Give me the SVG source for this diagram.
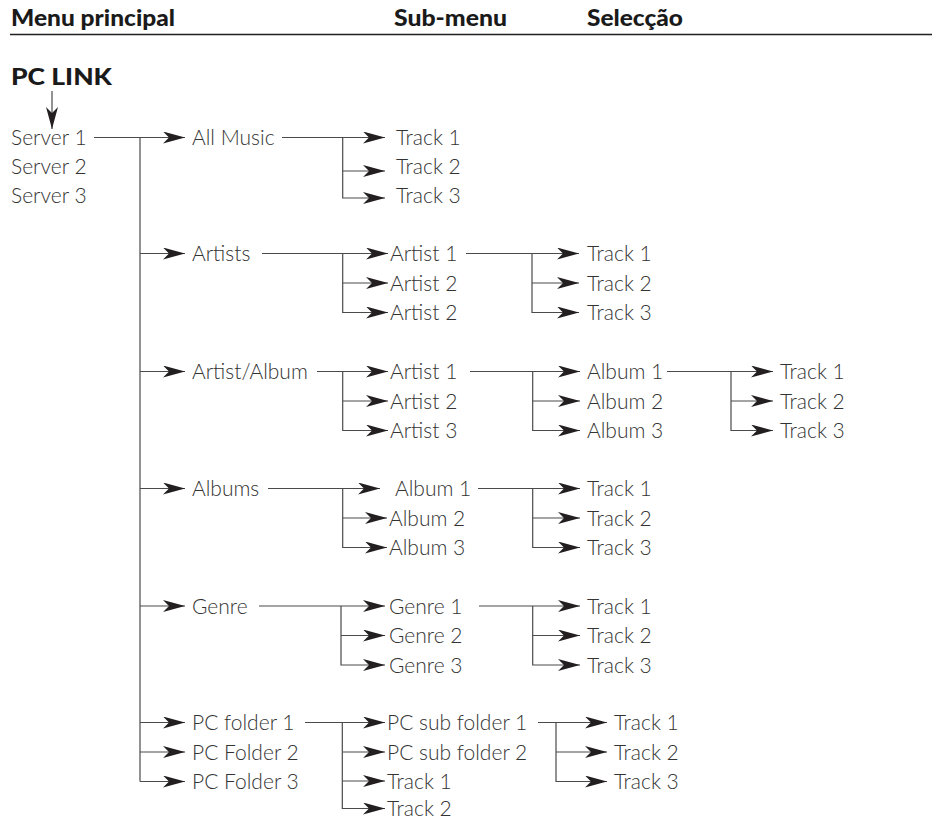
<svg xmlns="http://www.w3.org/2000/svg" width="938" height="818" viewBox="0 0 938 818">
<style>
.t{font-family:Lato,"Liberation Sans",sans-serif;font-size:21px;font-weight:300;fill:#333333}
.h{font-family:Lato,"Liberation Sans",sans-serif;font-size:22px;font-weight:900;fill:#1a1a1a}
.c{fill:none;stroke:#4a4a4a;stroke-width:1.2}
.a{marker-end:url(#ah)}
</style>
<defs>
<marker id="ah" viewBox="0 0 22 12" refX="22" refY="6" markerWidth="22" markerHeight="12" markerUnits="userSpaceOnUse" orient="auto"><path d="M22,6 L0,0 L6,6 L0,12 Z" fill="#231f20"/></marker>
</defs>
<rect width="938" height="818" fill="#fff"/>
<g id="header">
<text class="h" x="11" y="26" textLength="164" lengthAdjust="spacingAndGlyphs">Menu principal</text>
<text class="h" x="394" y="26" textLength="113" lengthAdjust="spacingAndGlyphs">Sub-menu</text>
<text class="h" x="587" y="26" textLength="96" lengthAdjust="spacingAndGlyphs">Selecção</text>
<line x1="10" y1="34.5" x2="932" y2="34.5" stroke="#231f20" stroke-width="1.3"/>
</g>
<g id="connectors">
<path class="c a" d="M52,91 V129"/>
<path class="c" d="M140,137.5 V781.5"/>
<path class="c a" d="M94,137.5 H185"/>
<path class="c a" d="M140,253.5 H185"/>
<path class="c a" d="M140,371.5 H185"/>
<path class="c a" d="M140,488.5 H185"/>
<path class="c a" d="M140,606 H185"/>
<path class="c a" d="M140,722.5 H185"/>
<path class="c a" d="M140,752 H185"/>
<path class="c a" d="M140,781.5 H185"/>
<path class="c a" d="M282,137.5 H385"/>
<path class="c a" d="M342.7,137.5 V198 H385"/>
<path class="c a" d="M342.7,171 H385"/>
<path class="c a" d="M262,253.5 H388"/>
<path class="c a" d="M342.7,253.5 V312.5 H388"/>
<path class="c a" d="M342.7,283 H388"/>
<path class="c a" d="M466,253.5 H579"/>
<path class="c a" d="M532,253.5 V312.5 H579"/>
<path class="c a" d="M532,283 H579"/>
<path class="c a" d="M317,371.5 H388"/>
<path class="c a" d="M342.7,371.5 V430.5 H388"/>
<path class="c a" d="M342.7,401 H388"/>
<path class="c a" d="M470,371.5 H580"/>
<path class="c a" d="M532.7,371.5 V430.5 H580"/>
<path class="c a" d="M532.7,401 H580"/>
<path class="c a" d="M667,371.5 H773"/>
<path class="c a" d="M731,371.5 V430.5 H773"/>
<path class="c a" d="M731,401 H773"/>
<path class="c a" d="M268,488.5 H380"/>
<path class="c a" d="M342.7,488.5 V547.5 H387"/>
<path class="c a" d="M342.7,518 H387"/>
<path class="c a" d="M478,488.5 H580"/>
<path class="c a" d="M532.7,488.5 V547.5 H580"/>
<path class="c a" d="M532.7,518 H580"/>
<path class="c a" d="M259,606 H385"/>
<path class="c a" d="M341,606 V665 H385"/>
<path class="c a" d="M341,635.5 H385"/>
<path class="c a" d="M479,606 H580"/>
<path class="c a" d="M532.7,606 V665 H580"/>
<path class="c a" d="M532.7,635.5 H580"/>
<path class="c a" d="M305,722.5 H385"/>
<path class="c a" d="M342.3,722.5 V808.5 H385"/>
<path class="c a" d="M342.3,752 H385"/>
<path class="c a" d="M342.3,781 H385"/>
<path class="c a" d="M538,722.5 H607"/>
<path class="c a" d="M556,722.5 V781.5 H607"/>
<path class="c a" d="M556,752 H607"/>
</g>
<g id="pclink"><text class="h" x="11" y="85" textLength="101" lengthAdjust="spacingAndGlyphs">PC LINK</text></g>
<g id="server1"><text class="t" x="11" y="145">Server 1</text></g>
<g id="server2"><text class="t" x="11" y="174">Server 2</text></g>
<g id="server3"><text class="t" x="11" y="203">Server 3</text></g>
<g id="allmusic"><text class="t" x="192" y="145">All Music</text></g>
<g id="am-track1"><text class="t" x="396" y="145">Track 1</text></g>
<g id="am-track2"><text class="t" x="396" y="174">Track 2</text></g>
<g id="am-track3"><text class="t" x="396" y="203">Track 3</text></g>
<g id="artists"><text class="t" x="192" y="261">Artists</text></g>
<g id="ar-artist1"><text class="t" x="390" y="261">Artist 1</text></g>
<g id="ar-artist2"><text class="t" x="390" y="290.5">Artist 2</text></g>
<g id="ar-artist3"><text class="t" x="390" y="320">Artist 2</text></g>
<g id="ar-track1"><text class="t" x="587" y="261">Track 1</text></g>
<g id="ar-track2"><text class="t" x="587" y="290.5">Track 2</text></g>
<g id="ar-track3"><text class="t" x="587" y="320">Track 3</text></g>
<g id="artistalbum"><text class="t" x="192" y="379">Artist/Album</text></g>
<g id="aa-artist1"><text class="t" x="390" y="379">Artist 1</text></g>
<g id="aa-artist2"><text class="t" x="390" y="408.5">Artist 2</text></g>
<g id="aa-artist3"><text class="t" x="390" y="438">Artist 3</text></g>
<g id="aa-album1"><text class="t" x="587" y="379">Album 1</text></g>
<g id="aa-album2"><text class="t" x="587" y="408.5">Album 2</text></g>
<g id="aa-album3"><text class="t" x="587" y="438">Album 3</text></g>
<g id="aa-track1"><text class="t" x="780" y="379">Track 1</text></g>
<g id="aa-track2"><text class="t" x="780" y="408.5">Track 2</text></g>
<g id="aa-track3"><text class="t" x="780" y="438">Track 3</text></g>
<g id="albums"><text class="t" x="192" y="496">Albums</text></g>
<g id="al-album1"><text class="t" x="395" y="496">Album 1</text></g>
<g id="al-album2"><text class="t" x="389" y="525.5">Album 2</text></g>
<g id="al-album3"><text class="t" x="389" y="555">Album 3</text></g>
<g id="al-track1"><text class="t" x="587" y="496">Track 1</text></g>
<g id="al-track2"><text class="t" x="587" y="525.5">Track 2</text></g>
<g id="al-track3"><text class="t" x="587" y="555">Track 3</text></g>
<g id="genre"><text class="t" x="192" y="613.5">Genre</text></g>
<g id="ge-genre1"><text class="t" x="389" y="613.5">Genre 1</text></g>
<g id="ge-genre2"><text class="t" x="389" y="643">Genre 2</text></g>
<g id="ge-genre3"><text class="t" x="389" y="672.5">Genre 3</text></g>
<g id="ge-track1"><text class="t" x="587" y="613.5">Track 1</text></g>
<g id="ge-track2"><text class="t" x="587" y="643">Track 2</text></g>
<g id="ge-track3"><text class="t" x="587" y="672.5">Track 3</text></g>
<g id="pcfolder1"><text class="t" x="192" y="730">PC folder 1</text></g>
<g id="pcfolder2"><text class="t" x="192" y="759.5">PC Folder 2</text></g>
<g id="pcfolder3"><text class="t" x="192" y="789">PC Folder 3</text></g>
<g id="pc-sub1"><text class="t" x="387" y="730">PC sub folder 1</text></g>
<g id="pc-sub2"><text class="t" x="387" y="759.5">PC sub folder 2</text></g>
<g id="pc-track1"><text class="t" x="387" y="788.5">Track 1</text></g>
<g id="pc-track2"><text class="t" x="387" y="815.5">Track 2</text></g>
<g id="ps-track1"><text class="t" x="614" y="730">Track 1</text></g>
<g id="ps-track2"><text class="t" x="614" y="759.5">Track 2</text></g>
<g id="ps-track3"><text class="t" x="614" y="789">Track 3</text></g>
</svg>
